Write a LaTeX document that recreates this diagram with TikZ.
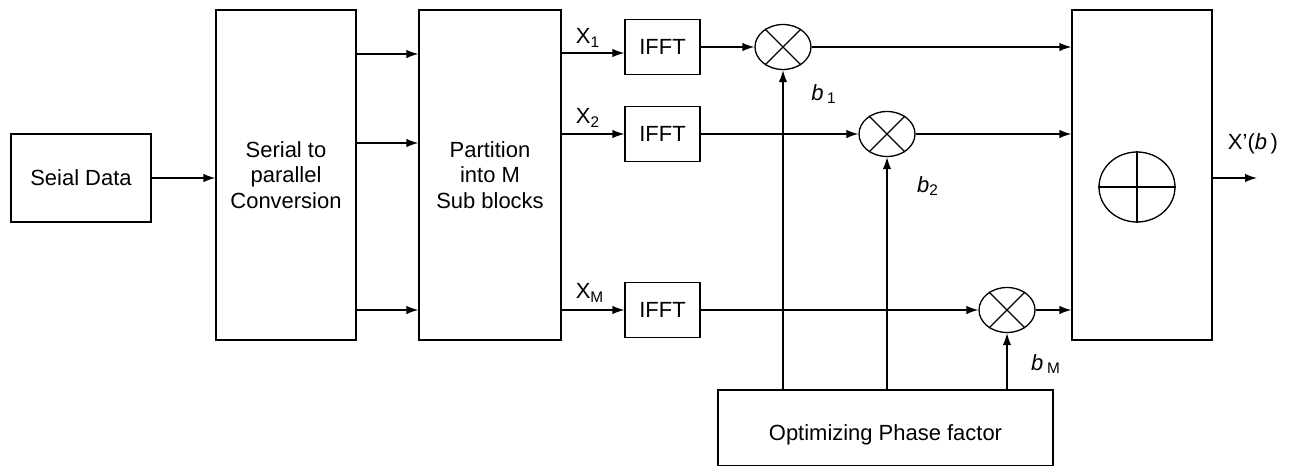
\documentclass[tikz,border=0pt]{standalone}
\usepackage{fontspec}
\setmainfont{Liberation Sans}
\usetikzlibrary{shapes.geometric,arrows.meta}
\begin{document}
\begin{tikzpicture}[x=0.02cm,y=-0.02cm,line width=0.75pt,
  font=\fontsize{12.5}{14.7}\selectfont,
  >={Latex[length=6.8pt,width=4.8pt]},
  blk/.style={draw,rectangle,inner sep=0pt,align=center},
  mult/.style={draw,ellipse,inner sep=0pt,minimum width=1.12cm,minimum height=0.9cm},
  lbl/.style={inner sep=0pt}]
\useasboundingbox (0,0) rectangle (1289,466);
% blocks
\node[blk,minimum width=2.8cm,minimum height=1.76cm] (sd) at (81,178) {Seial Data};
\node[blk,minimum width=2.8cm,minimum height=6.6cm] (sp) at (286,175) {Serial to\\parallel\\Conversion};
\node[blk,minimum width=2.84cm,minimum height=6.6cm] (pt) at (490,175) {Partition\\into M\\Sub blocks};
\node[blk,minimum width=1.5cm,minimum height=1.1cm] (f1) at (662.5,47) {IFFT};
\node[blk,minimum width=1.5cm,minimum height=1.1cm] (f2) at (662.5,134) {IFFT};
\node[blk,minimum width=1.5cm,minimum height=1.1cm] (fM) at (662.5,310) {IFFT};
\node[blk,minimum width=2.8cm,minimum height=6.6cm] (rt) at (1142,175) {};
\node[blk,minimum width=6.7cm,minimum height=1.52cm] (opt) at (885.5,428) {};
\node[lbl] (optt) at (885.5,435) {Optimizing Phase factor};
% multipliers
\node[mult] (m1) at (783,47) {};
\node[mult] (m2) at (887,134) {};
\node[mult] (mM) at (1007,310) {};
\foreach \m in {m1,m2,mM}{
  \draw (\m.135) -- (\m.-45);
  \draw (\m.45) -- (\m.-135);
}
% adder
\node[draw,ellipse,inner sep=0pt,minimum width=1.52cm,minimum height=1.4cm] (pl) at (1137,187) {};
\draw (pl.north) -- (pl.south);
\draw (pl.west) -- (pl.east);
% connections
\draw[->] (sd.east) -- (sd.east -| sp.west);
\draw[->] (sp.east |- 0,54) -- (pt.west |- 0,54);
\draw[->] (sp.east |- 0,143) -- (pt.west |- 0,143);
\draw[->] (sp.east |- 0,310) -- (pt.west |- 0,310);
\draw[->] (pt.east |- 0,53) -- (f1.west |- 0,53);
\draw[->] (pt.east |- f2.west) -- (f2.west);
\draw[->] (pt.east |- fM.west) -- (fM.west);
\draw[->] (f1.east) -- (m1.west);
\draw[->] (f2.east) -- (m2.west);
\draw[->] (fM.east) -- (mM.west);
\draw[->] (m1.east) -- (m1.east -| rt.west);
\draw[->] (m2.east) -- (m2.east -| rt.west);
\draw[->] (mM.east) -- (mM.east -| rt.west);
\draw[->] (opt.north -| m1.south) -- (m1.south);
\draw[->] (opt.north -| m2.south) -- (m2.south);
\draw[->] (opt.north -| mM.south) -- (mM.south);
\coordinate (out) at (1257,178);
\draw[->] (rt.east |- out) -- (out);
% labels
\node[lbl] (lx1) at (588,38) {X\textsubscript{1}};
\node[lbl] (lx2) at (588,118) {X\textsubscript{2}};
\node[lbl] (lxm) at (590,293) {X\textsubscript{M}};
\node[lbl] (lb1) at (824,94) {\textit{b}\,\textsubscript{1}};
\node[lbl] (lb2) at (928,186) {\textit{b}\textsubscript{2}};
\node[lbl] (lbm) at (1046,364) {\textit{b}\,\textsubscript{M}};
\node[lbl] (lout) at (1253,144) {X'(\textit{b}\,)};
\end{tikzpicture}
\end{document}
